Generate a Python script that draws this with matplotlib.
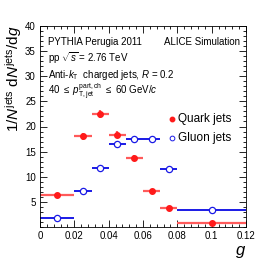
import numpy as np
import matplotlib.pyplot as plt
from matplotlib.ticker import MultipleLocator

plt.rcParams['font.family'] = ['Liberation Sans', 'DejaVu Sans']
plt.rcParams['mathtext.fontset'] = 'custom'
plt.rcParams['mathtext.rm'] = 'Liberation Sans'
plt.rcParams['mathtext.it'] = 'Liberation Sans:italic'
plt.rcParams['mathtext.sf'] = 'Liberation Sans'

# bin edges and per-bin values
bin_lo = [0.0, 0.02, 0.03, 0.04, 0.05, 0.06, 0.07, 0.08]
bin_hi = [0.02, 0.03, 0.04, 0.05, 0.06, 0.07, 0.08, 0.12]
quark = [6.3, 18.1, 22.4, 18.4, 13.8, 7.1, 3.8, 0.8]
quark_err = [0.3, 0.7, 0.8, 0.7, 0.6, 0.4, 0.3, 0.15]
gluon = [1.8, 7.2, 11.7, 16.6, 17.6, 17.6, 11.6, 3.3]
gluon_err = [0.2, 0.3, 0.4, 0.5, 0.5, 0.5, 0.4, 0.15]

lo = np.array(bin_lo)
hi = np.array(bin_hi)
centre = (lo + hi) / 2
half = (hi - lo) / 2

red = '#ff1a1a'
blue = '#1a1ae6'

fig = plt.figure(figsize=(2.74, 2.68), dpi=100)
ax = fig.add_axes([40 / 274, 41 / 268, 206 / 274, 201 / 268])

ax.errorbar(centre, quark, xerr=half, yerr=quark_err, fmt='o', color=red,
            ecolor='#ff5a5a', elinewidth=1.6, ms=4, capsize=0)
ax.errorbar(centre, gluon, xerr=half, yerr=gluon_err, fmt='o', color=blue,
            mfc='white', mec=blue, mew=0.9, elinewidth=1.4, ms=4.5, capsize=0)

ax.set_xlim(0, 0.12)
ax.set_ylim(0, 40)
ax.xaxis.set_minor_locator(MultipleLocator(0.004))
ax.yaxis.set_minor_locator(MultipleLocator(1))
ax.tick_params(which='both', direction='in', top=True, right=True, labelsize=7, pad=3)
ax.tick_params(which='major', length=5, width=0.6)
ax.tick_params(which='minor', length=2.5, width=0.6)
ax.set_xticks([0, 0.02, 0.04, 0.06, 0.08, 0.1, 0.12])
ax.set_xticklabels(['0', '0.02', '0.04', '0.06', '0.08', '0.1', '0.12'])
ax.set_yticks([5, 10, 15, 20, 25, 30, 35, 40])
for s in ax.spines.values():
    s.set_linewidth(0.6)

ax.set_xlabel('$g$', fontsize=12, loc='right', labelpad=2)
ax.set_ylabel(r'$1/N^{\mathrm{jets}}\ \mathrm{d}N^{\mathrm{jets}}/\mathrm{d}g$',
              fontsize=11, loc='top', labelpad=1)

fs = 7
ax.text(0.04, 0.92, 'PYTHIA Perugia 2011', transform=ax.transAxes, fontsize=fs, va='center')
ax.text(0.97, 0.92, 'ALICE Simulation', transform=ax.transAxes, fontsize=fs,
        ha='right', va='center')
ax.text(0.04, 0.84, r'pp $\sqrt{s}$ = 2.76 TeV', transform=ax.transAxes, fontsize=fs,
        va='center')
ax.text(0.04, 0.756, r'Anti-$k_{\mathrm{T}}$  charged jets, $R$ = 0.2',
        transform=ax.transAxes, fontsize=fs, va='center')
ax.text(0.04, 0.672, r'40 $\leq$ $p_{\mathrm{T,jet}}^{\mathrm{part,ch}}$ $\leq$ 60 GeV/$c$',
        transform=ax.transAxes, fontsize=fs, va='center')

# legend drawn by hand, ROOT style
ax.plot([0.64], [0.537], 'o', color=red, ms=3.2, transform=ax.transAxes, clip_on=False)
ax.plot([0.64], [0.443], 'o', mfc='white', mec=blue, mew=0.7, ms=3.4,
        transform=ax.transAxes, clip_on=False)
ax.text(0.67, 0.537, 'Quark jets', transform=ax.transAxes, fontsize=8.5, va='center')
ax.text(0.67, 0.443, 'Gluon jets', transform=ax.transAxes, fontsize=8.5, va='center')

fig.savefig('out.png', dpi=100)
